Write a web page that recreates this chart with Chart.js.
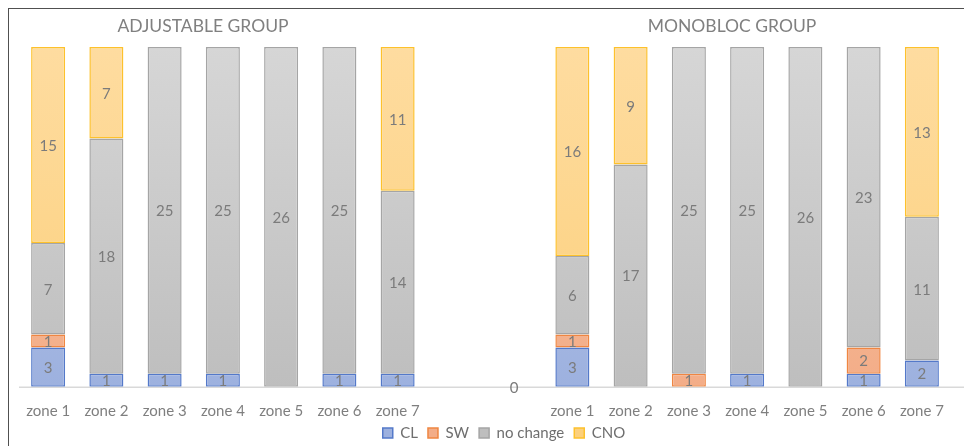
<!DOCTYPE html>
<html>
<head>
<meta charset="utf-8">
<script src="https://cdn.jsdelivr.net/npm/chart.js@4.4.1/dist/chart.umd.min.js"></script>
<style>
  html, body { margin: 0; padding: 0; background: #fff; overflow: hidden; }
  #frame {
    position: absolute; left: 8px; top: 8px; width: 956px; height: 438px;
    border-left: 1px solid #505050; border-top: 1px solid #505050;
  }
  #chart { position: absolute; left: 0; top: 0; }
</style>
</head>
<body>
<div id="frame"><canvas id="chart" width="955" height="447"></canvas></div>
<script>
// Zone outcomes per group (number of cases in each zone)
const zones = ['zone 1', 'zone 2', 'zone 3', 'zone 4', 'zone 5', 'zone 6', 'zone 7'];
const groupTitles = ['ADJUSTABLE GROUP', 'MONOBLOC GROUP'];
const seriesNames = ['CL', 'SW', 'no change', 'CNO'];

const adjustableCL  = [3, 1, 1, 1, null, 1, 1];
const adjustableSW  = [1, null, null, null, null, null, null];
const adjustableNC  = [7, 18, 25, 25, 26, 25, 14];
const adjustableCNO = [15, 7, null, null, null, null, 11];

const monoblocCL  = [3, null, null, 1, null, 1, 2];
const monoblocSW  = [1, null, 1, null, null, 2, null];
const monoblocNC  = [6, 17, 25, 25, 26, 23, 11];
const monoblocCNO = [16, 9, null, null, null, null, 13];

// two spacer columns between the groups; the second one carries a 0
const spacerLabels = ['', ''];
const spacerNC = [null, 0];
const spacerEmpty = [null, null];

const labels = [...zones, ...spacerLabels, ...zones];

function vGradient(topColor, bottomColor) {
  return (context) => {
    const chart = context.chart;
    const area = chart.chartArea;
    if (!area) return bottomColor;
    const g = chart.ctx.createLinearGradient(0, area.top, 0, area.bottom);
    g.addColorStop(0, topColor);
    g.addColorStop(1, bottomColor);
    return g;
  };
}

const datasets = [
  {
    label: seriesNames[0],
    data: [...adjustableCL, ...spacerEmpty, ...monoblocCL],
    backgroundColor: vGradient('#bccaeb', '#9db1df'),
    borderColor: '#5479c9'
  },
  {
    label: seriesNames[1],
    data: [...adjustableSW, ...spacerEmpty, ...monoblocSW],
    backgroundColor: vGradient('#f8c6a6', '#f3ad88'),
    borderColor: '#ef8642'
  },
  {
    label: seriesNames[2],
    data: [...adjustableNC, ...spacerNC, ...monoblocNC],
    backgroundColor: vGradient('#d6d6d6', '#bebebe'),
    borderColor: '#a5a5a5'
  },
  {
    label: seriesNames[3],
    data: [...adjustableCNO, ...spacerEmpty, ...monoblocCNO],
    backgroundColor: vGradient('#fedca0', '#fcd07c'),
    borderColor: '#fdc12c'
  }
].map(d => Object.assign(d, { borderWidth: 1.5, borderSkipped: false }));

const FONT = 'Lato, "Open Sans", sans-serif';

// group titles, baseline, value labels and legend placement
const decorations = {
  id: 'decorations',
  afterLayout(chart) {
    const lg = chart.legend;
    lg.left += 19;
    lg.right += 19;
    lg.top -= 5.5;
    lg.bottom -= 5.5;
  },
  beforeDatasetsDraw(chart) {
    const { ctx, chartArea } = chart;
    ctx.save();
    ctx.strokeStyle = '#d9d9d9';
    ctx.lineWidth = 1.5;
    ctx.beginPath();
    ctx.moveTo(chartArea.left, chartArea.bottom + 0.5);
    ctx.lineTo(chart.width, chartArea.bottom + 0.5);
    ctx.stroke();
    ctx.restore();
  },
  afterDatasetsDraw(chart) {
    const { ctx } = chart;
    ctx.save();
    ctx.font = '15px ' + FONT;
    ctx.fillStyle = '#7b7b7b';
    ctx.textAlign = 'center';
    ctx.textBaseline = 'middle';
    chart.data.datasets.forEach((ds, i) => {
      const meta = chart.getDatasetMeta(i);
      meta.data.forEach((bar, j) => {
        const v = ds.data[j];
        if (v === null || v === undefined) return;
        ctx.fillText(String(v), bar.x, (bar.y + bar.base) / 2 + 1);
      });
    });
    ctx.font = '17.5px ' + FONT;
    ctx.fillStyle = '#808080';
    const titleX = [194, 723];
    groupTitles.forEach((t, k) => ctx.fillText(t, titleX[k], 17));
    ctx.restore();
  }
};

new Chart(document.getElementById('chart'), {
  type: 'bar',
  data: { labels, datasets },
  options: {
    responsive: false,
    animation: false,
    layout: { padding: { left: 10, right: 13, top: 38, bottom: 0 } },
    plugins: {
      tooltip: { enabled: false },
      title: { display: false },
      legend: {
        position: 'bottom',
        labels: {
          boxWidth: 10,
          boxHeight: 10,
          padding: 10,
          color: '#6e6e6e',
          font: { family: FONT, size: 15 }
        }
      }
    },
    datasets: { bar: { categoryPercentage: 1, barPercentage: 0.584 } },
    scales: {
      x: {
        stacked: true,
        grid: { display: false, drawTicks: false },
        border: { display: false },
        ticks: {
          color: '#7f7f7f',
          font: { family: FONT, size: 15 },
          padding: 15,
          autoSkip: false,
          maxRotation: 0
        },
        afterFit(scale) { scale.height = 34.3; }
      },
      y: {
        stacked: true,
        display: false,
        min: 0,
        max: 26
      }
    }
  },
  plugins: [decorations]
});
</script>
</body>
</html>
